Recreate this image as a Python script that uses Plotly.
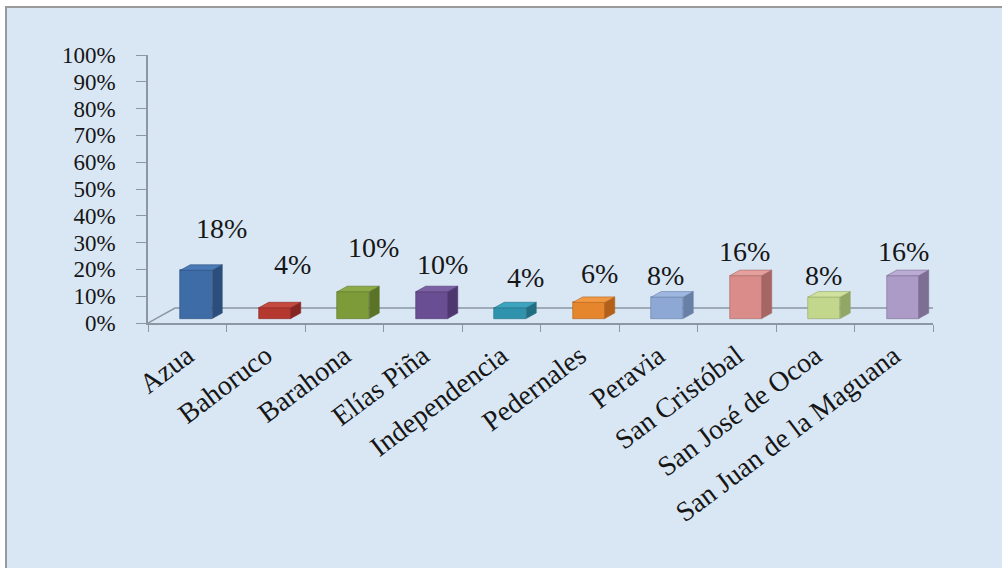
import plotly.graph_objects as go

# ---- data ----
categories = ["Azua", "Bahoruco", "Barahona", "Elías Piña", "Independencia",
              "Pedernales", "Peravia", "San Cristóbal", "San José de Ocoa",
              "San Juan de la Maguana"]
values = [18, 4, 10, 10, 4, 6, 8, 16, 8, 16]
y_ticks = [0, 10, 20, 30, 40, 50, 60, 70, 80, 90, 100]
y_tick_labels = [f"{v}%" for v in y_ticks]

# ---- style ----
front_colors = ["#3e6ca6", "#b5382f", "#7e9b3a", "#6a4e93", "#2f93ad",
                "#e5862c", "#8da8d4", "#d98c8a", "#c2d68c", "#ab9bc6"]
side_colors = ["#2b4e7c", "#872520", "#5b7327", "#4d376e", "#216e83",
               "#b3611a", "#687fa6", "#a66664", "#92a665", "#7d6f94"]
top_colors = ["#4b7bb6", "#c6493e", "#8cab46", "#7b60a4", "#3ca4be",
              "#f09842", "#9db7e0", "#e5a09e", "#cfe19c", "#bbacd5"]
# data-label offsets (pixels: right of category centre, up from bar front-top)
label_shift = [(34, 42), (27, 43), (29, 44), (20, 27), (24, 30),
               (20, 29), (7, 22), (8, 24), (8, 22), (10, 24)]

FONT = "Liberation Serif"
W, H = 1002, 568
L, R, T, B = 148, 933, 55, 323   # plot area pixels
AX = "#8b97a3"

def px_x(p):
    return (p - L) / (R - L)

def px_y(p):
    return (B - p) / (B - T)

n = len(categories)
xunit = (R - L) / n          # px per category
yunit = (B - T) / 100.0      # px per percent

# 3D geometry (in data units)
floor_dx, floor_dy = 27 / xunit, 15 / yunit
bar_base = 4.5 / yunit
bar_shift = 9 / xunit
bar_w = 32 / xunit
depth_dx, depth_dy = 10 / xunit, 5.5 / yunit

fig = go.Figure()

# bar fronts
xc = [i + bar_shift for i in range(n)]
fig.add_trace(go.Bar(
    x=xc, y=values, base=bar_base, width=bar_w,
    marker=dict(color=front_colors, line=dict(color=side_colors, width=0.6)),
    cliponaxis=False, showlegend=False, hoverinfo="skip"))

# side and top faces
for i, v in enumerate(values):
    x0 = xc[i] - bar_w / 2
    x1 = xc[i] + bar_w / 2
    b = bar_base
    t = bar_base + v
    fig.add_trace(go.Scatter(
        x=[x1, x1 + depth_dx, x1 + depth_dx, x1, x1],
        y=[b, b + depth_dy, t + depth_dy, t, b],
        mode="lines", fill="toself", fillcolor=side_colors[i],
        line=dict(color=side_colors[i], width=0.6),
        cliponaxis=False, hoverinfo="skip", showlegend=False))
    fig.add_trace(go.Scatter(
        x=[x0, x0 + depth_dx, x1 + depth_dx, x1, x0],
        y=[t, t + depth_dy, t + depth_dy, t, t],
        mode="lines", fill="toself", fillcolor=top_colors[i],
        line=dict(color=side_colors[i], width=0.6),
        cliponaxis=False, hoverinfo="skip", showlegend=False))

# invisible trace to carry the category-label axis
fig.add_trace(go.Scatter(x=list(range(n)), y=[0] * n, xaxis="x2",
                         mode="markers", marker=dict(opacity=0),
                         hoverinfo="skip", showlegend=False))

# data labels
for i, v in enumerate(values):
    dx, dy = label_shift[i]
    fig.add_annotation(x=i, y=bar_base + v, text=f"{v}%", showarrow=False,
                       xshift=dx, yshift=dy,
                       xanchor="center", yanchor="middle",
                       font=dict(family=FONT, size=28, color="#161616"))

# frame
fig.add_shape(type="rect", xref="paper", yref="paper",
              x0=px_x(6), x1=px_x(W + 5), y0=px_y(H + 5), y1=px_y(7),
              fillcolor="#d9e7f5", line=dict(color="#9a9a9a", width=2),
              layer="below")
# 3D floor (behind the bars)
fx0, fx1 = -0.5, n - 0.5
fig.add_shape(type="path", xref="x", yref="y", layer="below",
              path=(f"M {fx0},0 L {fx0 + floor_dx},{floor_dy} "
                    f"L {fx1 + floor_dx},{floor_dy} L {fx1},0"),
              line=dict(color=AX, width=1.5))

fig.update_layout(
    width=W, height=H,
    margin=dict(l=L, r=W - R, t=T, b=H - B, pad=0),
    paper_bgcolor="white", plot_bgcolor="rgba(0,0,0,0)",
    bargap=0,
    xaxis=dict(range=[-0.5, n - 0.5], tickvals=[i - 0.5 for i in range(n + 1)],
               showticklabels=False, ticks="outside", ticklen=7,
               tickcolor=AX, showline=True, linecolor=AX, linewidth=1.5,
               showgrid=False, zeroline=False, fixedrange=True),
    xaxis2=dict(range=[-0.5, n - 0.5], overlaying="x", side="bottom",
                tickvals=list(range(n)), ticktext=categories, tickangle=-37,
                ticks="", showline=False, showgrid=False, zeroline=False,
                ticklabelstandoff=10,
                tickfont=dict(family=FONT, size=28, color="#161616")),
    yaxis=dict(range=[0, 100], tickvals=y_ticks, ticktext=y_tick_labels,
               ticks="outside", ticklen=10, tickcolor=AX,
               showline=True, linecolor=AX, linewidth=1.5,
               showgrid=False, zeroline=False, ticklabelstandoff=16,
               tickfont=dict(family=FONT, size=23, color="#161616")),
    font=dict(family=FONT),
)

fig.write_html("out.html")
